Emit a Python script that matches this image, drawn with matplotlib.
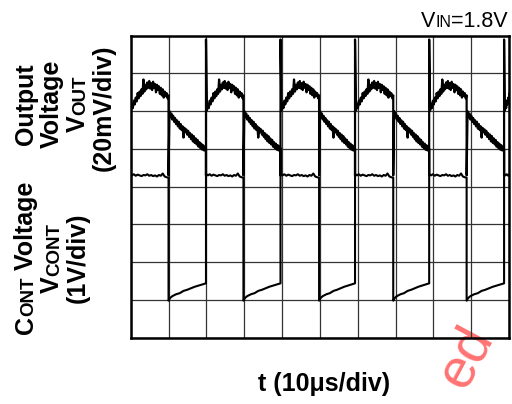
import matplotlib
matplotlib.use("Agg")
import matplotlib.pyplot as plt

# edge times in divisions (CONT rising edge = VOUT spike, CONT falling edge)
rise_times = [-0.02, 1.99, 3.96, 5.93, 7.89, 9.87]
fall_times = [1.00, 2.98, 4.98, 6.94, 8.88]

# VOUT while CONT is high (position as fraction of the high segment)
vout_high_frac = [0.000, 0.000, 0.025, 0.050, 0.075, 0.100, 0.125, 0.150,
                  0.175, 0.200, 0.225, 0.250, 0.275, 0.300, 0.325, 0.350,
                  0.375, 0.400, 0.425, 0.450, 0.475, 0.500, 0.525, 0.550,
                  0.575, 0.600, 0.625, 0.650, 0.675, 0.700, 0.725, 0.750,
                  0.775, 0.800, 0.825, 0.850, 0.875, 0.900, 0.925, 0.950,
                  0.975, 1.000]
vout_high_val = [4.30, 7.90, 6.02, 6.20, 6.08, 6.28, 6.18, 6.36, 6.26, 6.48,
                 6.34, 6.52, 6.40, 6.58, 6.46, 6.84, 6.52, 6.70, 6.58, 6.76,
                 6.62, 6.80, 6.60, 6.74, 6.56, 6.78, 6.62, 6.72, 6.50, 6.70,
                 6.56, 6.66, 6.46, 6.62, 6.42, 6.58, 6.36, 6.52, 6.40, 6.48,
                 6.34, 6.42]

# VOUT while CONT is low (fraction of the low segment)
vout_low_frac = [0.000, 0.025, 0.050, 0.075, 0.100, 0.125, 0.150, 0.175,
                 0.200, 0.225, 0.250, 0.275, 0.300, 0.325, 0.350, 0.375,
                 0.400, 0.425, 0.450, 0.475, 0.500, 0.525, 0.550, 0.575,
                 0.600, 0.625, 0.650, 0.675, 0.700, 0.725, 0.750, 0.775,
                 0.800, 0.825, 0.850, 0.875, 0.900, 0.925, 0.950, 0.975,
                 1.000]
vout_low_val = [4.30, 6.00, 5.84, 5.94, 5.78, 5.88, 5.72, 5.82, 5.66, 5.76,
                5.60, 5.72, 5.54, 5.66, 5.50, 5.60, 5.30, 5.56, 5.44, 5.52,
                5.38, 5.48, 5.32, 5.42, 5.26, 5.38, 5.20, 5.34, 5.16, 5.28,
                5.12, 5.24, 5.06, 5.18, 5.02, 5.14, 4.98, 5.10, 4.96, 5.06,
                5.00]

# CONT while high / low
cont_high_frac = [0.00, 0.00, 0.05, 0.10, 0.15, 0.20, 0.25, 0.30, 0.35, 0.40,
                  0.45, 0.50, 0.55, 0.60, 0.65, 0.70, 0.75, 0.80, 0.85, 0.90,
                  0.95, 1.00]
cont_high_val = [1.44, 4.34, 4.30, 4.33, 4.29, 4.32, 4.30, 4.28, 4.31, 4.30,
                 4.33, 4.29, 4.31, 4.28, 4.30, 4.27, 4.31, 4.29, 4.35, 4.27,
                 4.25, 4.24]
cont_low_frac = [0.00, 0.00, 0.04, 0.10, 0.20, 0.30, 0.40, 0.50, 0.60, 0.70,
                 0.80, 0.90, 1.00]
cont_low_val = [4.24, 0.98, 1.05, 1.10, 1.15, 1.18, 1.24, 1.27, 1.31, 1.35,
                1.38, 1.41, 1.44]

FONT = "Liberation Sans"


def build(frac_a, val_a, frac_b, val_b):
    # alternate high (rise->fall) and low (fall->rise) segments
    xs, ys = [], []
    for i, r in enumerate(rise_times):
        f = fall_times[i] if i < len(fall_times) else 10.6
        for fr, v in zip(frac_a, val_a):
            xs.append(r + fr * (f - r))
            ys.append(v)
        if i < len(fall_times):
            nxt = rise_times[i + 1]
            for fr, v in zip(frac_b, val_b):
                xs.append(f + fr * (nxt - f))
                ys.append(v)
    return xs, ys


fig = plt.figure(figsize=(5.12, 4.04), dpi=100)
ax = fig.add_axes([130.7 / 512, 1 - 337.7 / 404, 378.3 / 512, 302 / 404])
ax.set_facecolor("none")

vx, vy = build(vout_high_frac, vout_high_val, vout_low_frac, vout_low_val)
cx, cy = build(cont_high_frac, cont_high_val, cont_low_frac, cont_low_val)
ax.plot(cx, cy, color="black", lw=1.5, zorder=3)
ax.plot(vx, vy, color="black", lw=1.6, zorder=3)

ax.set_xlim(0, 10)
ax.set_ylim(0, 8)
ax.set_xticks(range(11))
ax.set_yticks(range(9))
ax.grid(True, color="#333333", lw=0.9)
ax.tick_params(length=0, labelbottom=False, labelleft=False)
for sp in ax.spines.values():
    sp.set_linewidth(1.8)

renderer = fig.canvas.get_renderer()


def rich(x, y, pieces, rotation=0, ha="center", weight="bold"):
    # pieces: (text, size); x, y in reference pixels (y from top)
    widths = []
    for s, size in pieces:
        t = fig.text(0, 0, s, fontsize=size, fontweight=weight, family=FONT)
        widths.append(t.get_window_extent(renderer).width)
        t.remove()
    total = sum(widths)
    dy = 404 - y
    if rotation == 90:
        pos = dy - total / 2 if ha == "center" else dy
    else:
        pos = x - total / 2 if ha == "center" else (x - total if ha == "right" else x)
    for (s, size), w in zip(pieces, widths):
        if rotation == 90:
            px, py = x, pos
        else:
            px, py = pos, dy
        fig.text(px / 512, py / 404, s, fontsize=size, fontweight=weight,
                 family=FONT, rotation=rotation, rotation_mode="anchor",
                 ha="left", va="baseline")
        pos += w


big, small = 18, 13.5
rich(33, 104, [("Output", big)], rotation=90)
rich(59, 104, [("Voltage", big)], rotation=90)
rich(85, 104, [("V", big), ("OUT", small)], rotation=90)
rich(111, 108, [("(20mV/div)", big)], rotation=90)

rich(33, 258, [("C", big), ("ONT", small), (" Voltage", big)], rotation=90)
rich(59, 258, [("V", big), ("CONT", small)], rotation=90)
rich(85, 258, [("(1V/div)", big)], rotation=90)

rich(324, 391, [("t (10\u03bcs/div)", big)])
rich(508, 27, [("V", 15.5), ("IN", 11.5), ("=1.8V", 15.5)], ha="right",
     weight="normal")

fig.text(466 / 512, 1 - 357 / 404, "ed", fontsize=40, color="#ff5a5a",
         alpha=0.85, rotation=62, ha="center", va="center", family=FONT,
         zorder=-1)

fig.savefig("out.png", dpi=100)
